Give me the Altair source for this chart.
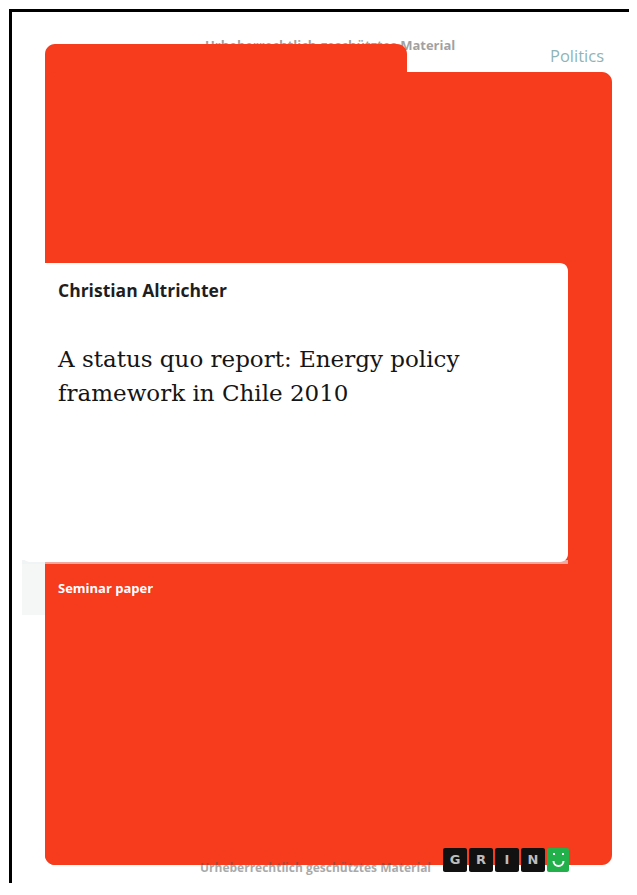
import altair as alt
import pandas as pd

# ---- data ----
# black frame (left and top edges)
frame_x0 = [9, 9]
frame_x1 = [12, 637]
frame_y0 = [9, 9]
frame_y1 = [895, 12]

# red cover body (stepped top), rounded
red_x0 = [45, 45]
red_x1 = [407, 612]
red_y0 = [44, 72]
red_y1 = [865, 865]

# faint card shadow
shadow_x0 = [22, 22]
shadow_x1 = [45, 568]
shadow_y0 = [560, 560]
shadow_y1 = [615, 564]

# white title card
card_x0 = [22]
card_x1 = [568]
card_y0 = [263]
card_y1 = [562]

# GRIN logo tiles
grin_letters = ["G", "R", "I", "N", ""]
grin_x0 = [443, 469, 495, 521, 547]
grin_x1 = [467, 493, 519, 545, 569]
grin_y0 = [848, 848, 848, 848, 848]
grin_y1 = [872, 872, 872, 872, 872]
grin_fill = ["#111111", "#111111", "#111111", "#111111", "#22b04a"]

# texts
author = "Christian Altrichter"
title_lines = ["A status quo report: Energy policy", "framework in Chile 2010"]
series_label = "Seminar paper"
subject = "Politics"
watermark = "Urheberrechtlich geschütztes Material"

RED = "#f73b1d"

# page-pixel coordinates (page has an 8px margin)
xs = alt.Scale(domain=[8, 629], nice=False, zero=False)
ys = alt.Scale(domain=[883, 8], nice=False, zero=False)


def rect_layer(x0, x1, y0, y1, fill, radius=0, opacity=1.0):
    df = pd.DataFrame({"x": x0, "x2": x1, "y": y0, "y2": y1,
                       "fill": fill if isinstance(fill, list) else [fill] * len(x0)})
    return alt.Chart(df).mark_rect(cornerRadius=radius, opacity=opacity, clip=True).encode(
        x=alt.X("x:Q", scale=xs, axis=None),
        x2="x2:Q",
        y=alt.Y("y:Q", scale=ys, axis=None),
        y2="y2:Q",
        color=alt.Color("fill:N", scale=None),
    )


def text_layer(texts, x, y, size, color, font, weight="normal", align="left",
               opacity=1.0, baseline="middle"):
    df = pd.DataFrame({"x": x, "y": y, "t": texts})
    return alt.Chart(df).mark_text(
        align=align, baseline=baseline, fontSize=size, font=font,
        fontWeight=weight, color=color, opacity=opacity,
    ).encode(
        x=alt.X("x:Q", scale=xs, axis=None),
        y=alt.Y("y:Q", scale=ys, axis=None),
        text="t:N",
    )


frame = rect_layer(frame_x0, frame_x1, frame_y0, frame_y1, "#000000")
red = rect_layer(red_x0, red_x1, red_y0, red_y1, RED, radius=10)
shadow = rect_layer(shadow_x0, shadow_x1, shadow_y0, shadow_y1, "#eef1f1", opacity=0.6)
card = rect_layer(card_x0, card_x1, card_y0, card_y1, "#ffffff", radius=8)

wm_top = text_layer([watermark], [205], [46], 13, "#555555", "Open Sans", "bold", opacity=0.55)
wm_bot = text_layer([watermark], [200], [868], 12, "#555555", "Open Sans", "bold", opacity=0.5)
politics = text_layer([subject], [550], [57], 16.5, "#8fb4b6", "Open Sans")
auth = text_layer([author], [58], [292], 17.5, "#1e1e1e", "Open Sans", "bold")
title = text_layer(title_lines, [58, 58], [367, 401], 23, "#151515", "DejaVu Serif",
                   baseline="alphabetic")
seminar = text_layer([series_label], [58], [589], 13, "#ffffff", "Open Sans", "bold")

grin = rect_layer(grin_x0, grin_x1, grin_y0, grin_y1, grin_fill, radius=2)
grin_txt = text_layer(grin_letters, [(a + b) / 2 for a, b in zip(grin_x0, grin_x1)],
                      [860] * 5, 13, "#bdbdbd", "DejaVu Sans", "bold", align="center")

# smiley on the green tile
eyes_df = pd.DataFrame({"x": [553, 562], "x2": [555, 564], "y": [853, 853], "y2": [855, 855],
                        "fill": ["#ffffff", "#ffffff"]})
eyes = alt.Chart(eyes_df).mark_rect().encode(
    x=alt.X("x:Q", scale=xs, axis=None), x2="x2:Q",
    y=alt.Y("y:Q", scale=ys, axis=None), y2="y2:Q",
    color=alt.Color("fill:N", scale=None),
)
mouth_df = pd.DataFrame({"x": [558.5], "y": [861]})
mouth = alt.Chart(mouth_df).mark_arc(
    theta=1.5708, theta2=4.7124, radius=6, radius2=4, color="#ffffff"
).encode(
    x=alt.X("x:Q", scale=xs, axis=None),
    y=alt.Y("y:Q", scale=ys, axis=None),
)

chart = alt.layer(
    frame, wm_top, red, shadow, card, wm_bot, politics, auth, title, seminar,
    grin, grin_txt, eyes, mouth,
).properties(
    width=621, height=875, padding=0, background="#ffffff",
    autosize=alt.AutoSizeParams(type="none"),
).configure_view(stroke=None)

chart.save("out.html", embed_options={"renderer": "svg", "actions": False})
